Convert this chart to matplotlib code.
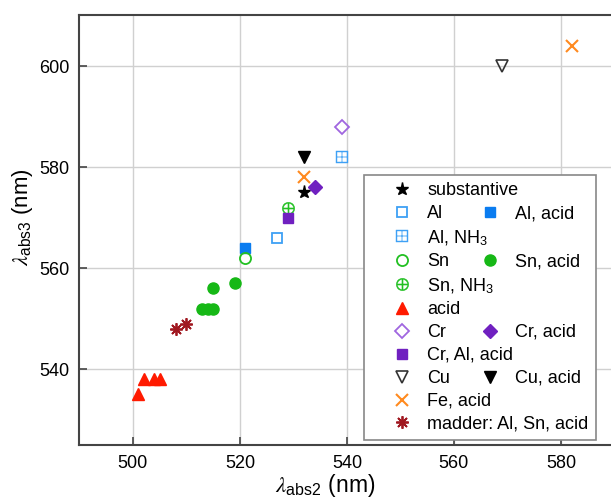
import matplotlib
matplotlib.use('Agg')
import matplotlib.pyplot as plt
from matplotlib.lines import Line2D

plt.rcParams['font.family'] = 'Liberation Sans'
plt.rcParams['mathtext.fontset'] = 'stix'

# lambda_abs2, lambda_abs3 (nm) for each treatment
substantive_x = [532]
substantive_y = [575]
al_x = [527]
al_y = [566]
al_acid_x = [521]
al_acid_y = [564]
al_nh3_x = [539]
al_nh3_y = [582]
sn_x = [521]
sn_y = [562]
sn_acid_x = [513, 514, 515, 515, 519]
sn_acid_y = [552, 552, 552, 556, 557]
sn_nh3_x = [529]
sn_nh3_y = [572]
acid_x = [501, 502, 504, 505]
acid_y = [535, 538, 538, 538]
cr_x = [539]
cr_y = [588]
cr_acid_x = [534]
cr_acid_y = [576]
cr_al_acid_x = [529]
cr_al_acid_y = [570]
cu_x = [569]
cu_y = [600]
cu_acid_x = [532]
cu_acid_y = [582]
fe_acid_x = [532, 582]
fe_acid_y = [578, 604]
madder_x = [508, 510]
madder_y = [548, 549]

fig = plt.figure(figsize=(6.11, 4.98), dpi=100)
ax = fig.add_axes([0.130, 0.1064, 0.8756, 0.8625])

def pts(x, y, marker, color, ms, filled=True, mew=1.0):
    line, = ax.plot(x, y, linestyle='none', marker=marker, markersize=ms,
                    markeredgecolor=color, markeredgewidth=mew,
                    markerfacecolor=color if filled else 'none', zorder=3)
    return line

h_sub = pts(substantive_x, substantive_y, '*', 'black', 9.5)
h_al = pts(al_x, al_y, 's', '#3ea0f5', 7, filled=False, mew=1.3)
h_al_acid = pts(al_acid_x, al_acid_y, 's', '#0a7cf0', 7)
h_al_nh3 = pts(al_nh3_x, al_nh3_y, r'$\boxplus$', '#3ea0f5', 9, mew=0.3)
h_sn = pts(sn_x, sn_y, 'o', '#22c022', 8, filled=False, mew=1.3)
h_sn_acid = pts(sn_acid_x, sn_acid_y, 'o', '#16b816', 8)
h_sn_nh3 = pts(sn_nh3_x, sn_nh3_y, r'$\oplus$', '#22c022', 9, mew=0.3)
h_acid = pts(acid_x, acid_y, '^', '#ff1a00', 9)
h_cr = pts(cr_x, cr_y, 'D', '#a066e0', 7, filled=False, mew=1.3)
h_cr_acid = pts(cr_acid_x, cr_acid_y, 'D', '#7020c0', 7)
h_cr_al = pts(cr_al_acid_x, cr_al_acid_y, 's', '#7020c0', 7)
h_cu = pts(cu_x, cu_y, 'v', '#333333', 9, filled=False, mew=1.2)
h_cu_acid = pts(cu_acid_x, cu_acid_y, 'v', 'black', 9)
h_fe = pts(fe_acid_x, fe_acid_y, 'x', '#ff8a1f', 8, mew=1.5)
h_mad = pts(madder_x, madder_y, (8, 2, 0), '#a01820', 9, mew=1.3)

ax.set_xlim(490, 590)
ax.set_ylim(525, 610)
ax.set_xticks([500, 520, 540, 560, 580])
ax.set_yticks([540, 560, 580, 600])
ax.grid(True, color='#d0d0d0', linewidth=1.0)
ax.set_axisbelow(True)
ax.tick_params(direction='in', length=6, width=1.2, labelsize=13, pad=7,
               color='#444444')
for s in ax.spines.values():
    s.set_color('#444444')
    s.set_linewidth(1.5)

ax.set_xlabel(r'$\lambda_{\mathregular{abs2}}$ (nm)', fontsize=16.5)
ax.set_ylabel(r'$\lambda_{\mathregular{abs3}}$ (nm)', fontsize=16)
ax.xaxis.set_label_coords(0.459, -0.062)
ax.yaxis.set_label_coords(-0.083, 0.53)

blank = Line2D([], [], linestyle='none')
labels1 = ['substantive', 'Al', r'Al, NH$_\mathregular{3}$', 'Sn',
           r'Sn, NH$_\mathregular{3}$', 'acid', 'Cr', 'Cr, Al, acid', 'Cu',
           'Fe, acid', 'madder: Al, Sn, acid']
handles1 = [h_sub, h_al, h_al_nh3, h_sn, h_sn_nh3, h_acid, h_cr, h_cr_al,
            h_cu, h_fe, h_mad]
# second column: only four entries visible, others are invisible spacers
handles2 = [blank, h_al_acid, blank, h_sn_acid, blank, blank, h_cr_acid,
            blank, h_cu_acid, blank, blank]
labels2 = list(labels1)
labels2[1] = 'Al, acid'
labels2[3] = 'Sn, acid'
labels2[6] = 'Cr, acid'
labels2[8] = 'Cu, acid'
visible2 = [1, 3, 6, 8]

leg_kw = dict(loc='upper left', fontsize=13, handlelength=3.4,
              handletextpad=-0.3, labelspacing=0.33, borderpad=0.4,
              numpoints=1, borderaxespad=0)
leg1 = ax.legend(handles1, labels1, bbox_to_anchor=(0.532, 0.6286),
                 fancybox=False, framealpha=1, edgecolor='#888888', **leg_kw)
leg1.get_frame().set_linewidth(1.2)
ax.add_artist(leg1)
leg2 = ax.legend(handles2, labels2, bbox_to_anchor=(0.532 + 0.1645, 0.6286),
                 frameon=False, **leg_kw)
for i, t in enumerate(leg2.get_texts()):
    if i not in visible2:
        t.set_alpha(0)

fig.savefig('out.png', dpi=100)
